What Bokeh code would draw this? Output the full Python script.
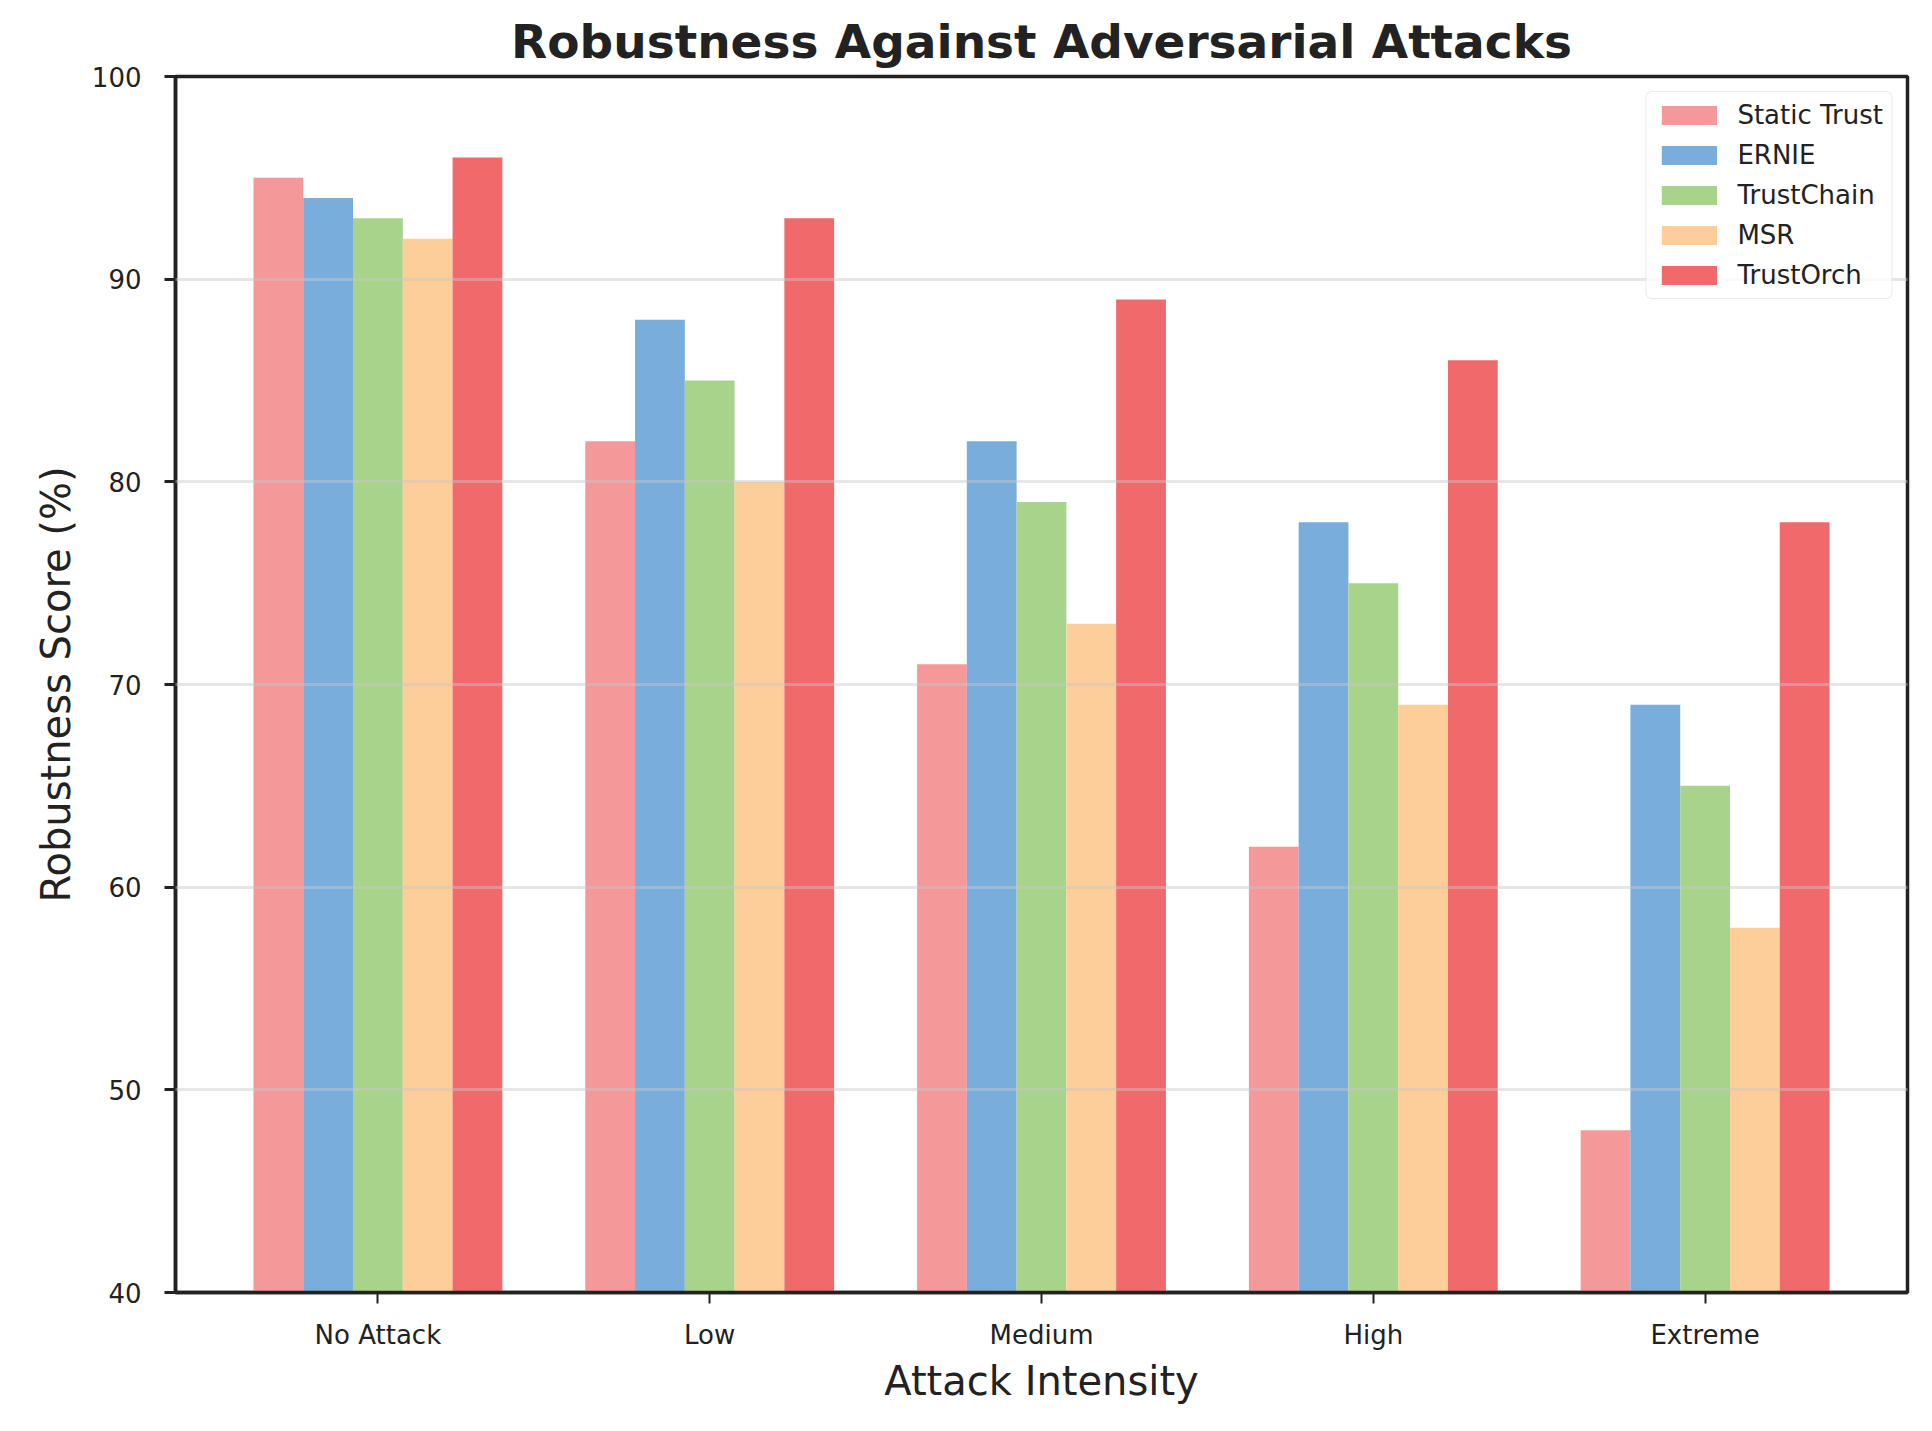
import numpy as np
from bokeh.plotting import figure
from bokeh.models import ColumnDataSource, Range1d, FixedTicker, Legend, LegendItem
from bokeh.transform import dodge
from bokeh.embed import file_html
from bokeh.resources import INLINE

# ---- data ----
categories = ["No Attack", "Low", "Medium", "High", "Extreme"]
methods = ["Static Trust", "ERNIE", "TrustChain", "MSR", "TrustOrch"]
static_trust = [95, 82, 71, 62, 48]
ernie = [94, 88, 82, 78, 69]
trustchain = [93, 85, 79, 75, 65]
msr = [92, 80, 73, 69, 58]
trustorch = [96, 93, 89, 86, 78]
y_ticks = [40, 50, 60, 70, 80, 90, 100]

series = [static_trust, ernie, trustchain, msr, trustorch]
colors = ["#F5989A", "#78ADDC", "#A7D38A", "#FDCD9A", "#F06A6C"]
keys = ["s0", "s1", "s2", "s3", "s4"]

xs = list(range(len(categories)))
data = dict(x=xs)
for k, s in zip(keys, series):
    data[k] = s
source = ColumnDataSource(data)

FONT = "DejaVu Sans"
TXT = "#222222"

p = figure(width=1916, height=1415, output_backend="svg", toolbar_location=None,
           x_range=Range1d(-0.61, 4.61), y_range=Range1d(40, 100),
           min_border_left=175, min_border_right=9, min_border_top=76, min_border_bottom=123)

bar_w = 0.15
offsets = [-0.3, -0.15, 0.0, 0.15, 0.3]
items = []
for k, name, c, off in zip(keys, methods, colors, offsets):
    r = p.vbar(x=dodge("x", off, range=p.x_range), top=k, bottom=40, width=bar_w,
               source=source, fill_color=c, line_color=None)
    items.append(LegendItem(label=name, renderers=[r]))

# title
p.title.text = "Robustness Against Adversarial Attacks"
p.title.align = "center"
p.title.text_font = FONT
p.title.text_font_size = "47px"
p.title.text_font_style = "bold"
p.title.text_color = TXT
p.title.standoff = 16

# outline / axes
p.outline_line_color = TXT
p.outline_line_width = 3.5
p.background_fill_color = "white"
p.border_fill_color = "white"

for ax in (p.xaxis[0], p.yaxis[0]):
    ax.axis_line_color = TXT
    ax.axis_line_width = 3.5
    ax.major_tick_line_color = TXT
    ax.major_tick_in = 0
    ax.major_tick_out = 11
    ax.minor_tick_line_color = None
    ax.major_label_text_font = FONT
    ax.major_label_text_font_size = "26px"
    ax.major_label_text_color = TXT
    ax.axis_label_text_font = FONT
    ax.axis_label_text_font_size = "40px"
    ax.axis_label_text_font_style = "normal"
    ax.axis_label_text_color = TXT

p.xaxis.ticker = FixedTicker(ticks=xs)
p.xaxis.major_label_overrides = {i: c for i, c in zip(xs, categories)}
p.xaxis.major_tick_line_width = 2
p.xaxis.major_label_standoff = 16
p.xaxis.axis_label = "Attack Intensity"
p.xaxis.axis_label_standoff = 5

p.yaxis.ticker = FixedTicker(ticks=y_ticks)
p.yaxis.major_tick_line_width = 3
p.yaxis.major_label_standoff = 23
p.yaxis.axis_label = "Robustness Score (%)"
p.yaxis.axis_label_standoff = 10

p.xgrid.visible = False
p.ygrid.ticker = FixedTicker(ticks=y_ticks[1:-1])
p.ygrid.grid_line_color = "#c8c8c8"
p.ygrid.grid_line_alpha = 0.45
p.ygrid.grid_line_width = 3
p.ygrid.level = "annotation"

legend = Legend(items=items, location="top_right", margin=15)
legend.label_text_font = FONT
legend.label_text_font_size = "26px"
legend.label_text_color = TXT
legend.glyph_width = 69
legend.glyph_height = 24
legend.label_height = 26
legend.label_standoff = 14
legend.spacing = 10
legend.padding = 8
legend.border_line_color = "#d6d6d6"
legend.border_line_width = 1.5
legend.border_radius = 6
legend.background_fill_color = "white"
legend.background_fill_alpha = 0.8
p.add_layout(legend)

open("out.html", "w").write(file_html(p, INLINE))
